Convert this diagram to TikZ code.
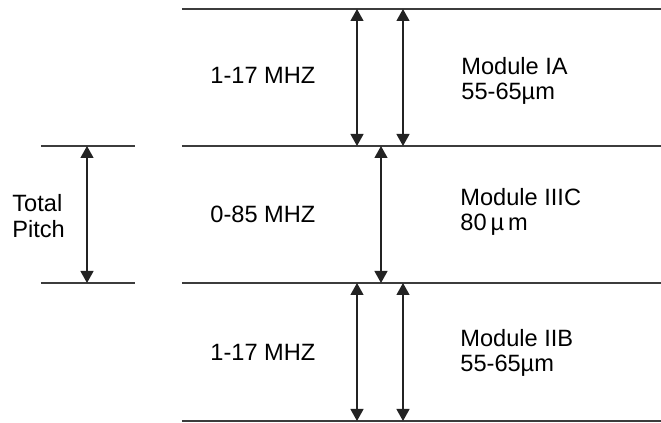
\documentclass[tikz,border=0pt]{standalone}
\usepackage{fontspec}
\setmainfont{Liberation Sans}
\usetikzlibrary{arrows.meta}
\definecolor{ruledark}{RGB}{60,60,60}
\definecolor{dimdark}{RGB}{35,35,35}

\begin{document}
\begin{tikzpicture}[
  x=0.5pt,y=-0.5pt,
  rule/.style={line width=1pt,draw=ruledark},
  dim/.style={{Triangle[length=6pt,width=6.5pt]}-{Triangle[length=6pt,width=6.5pt]},line width=0.6pt,draw=dimdark},
  lbl/.style={font=\fontsize{11.8}{12.8}\selectfont,align=left,anchor=west,inner sep=0pt}
]
\useasboundingbox (0,0) rectangle (661,423);
% horizontal rules
\coordinate (r1w) at (182,9);   \coordinate (r1e) at (661,9);
\coordinate (r2w) at (182,146); \coordinate (r2e) at (661,146);
\coordinate (r3w) at (182,283); \coordinate (r3e) at (661,283);
\coordinate (r4w) at (182,421); \coordinate (r4e) at (661,421);
\coordinate (pw) at (41,146);   \coordinate (pe) at (135,146);
\coordinate (qw) at (41,283);   \coordinate (qe) at (135,283);
\draw[rule] (r1w) -- (r1e);
\draw[rule] (r2w) -- (r2e);
\draw[rule] (r3w) -- (r3e);
\draw[rule] (r4w) -- (r4e);
\draw[rule] (pw) -- (pe);
\draw[rule] (qw) -- (qe);
% labels
\node[lbl] (fa) at (210,75) {1-17 MHZ};
\node[lbl] (fc) at (210,214) {0-85 MHZ};
\node[lbl] (fb) at (210,352) {1-17 MHZ};
\node[lbl] (ma) at (461,81) {Module IA\\55-65µm};
\node[lbl] (mc) at (460,212) {Module IIIC\\80\,µ\,m};
\node[lbl] (mb) at (460,353) {Module IIB\\55-65µm};
\node[lbl] (tp) at (12,216) {Total\\Pitch};
% dimension arrows
\draw[dim] (357,9) -- (357,146);
\draw[dim] (403,9) -- (403,146);
\draw[dim] (381,146) -- (381,283);
\draw[dim] (357,283) -- (357,421);
\draw[dim] (403,283) -- (403,421);
\draw[dim] (87,146) -- (87,283);
\end{tikzpicture}
\end{document}
